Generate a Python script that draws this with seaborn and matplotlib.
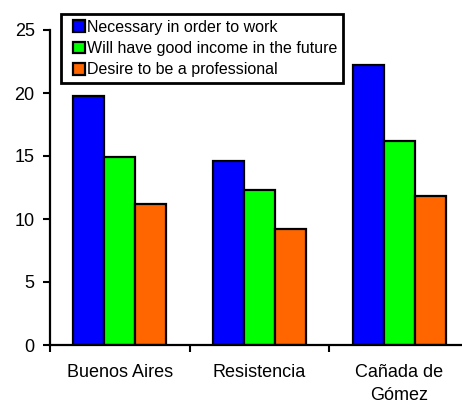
import matplotlib
matplotlib.use("Agg")
import matplotlib.pyplot as plt
import seaborn as sns
import pandas as pd
from matplotlib.container import BarContainer
from matplotlib.legend_handler import HandlerPatch, update_from_first_child
from matplotlib.patches import Rectangle, Patch

cities = ["Buenos Aires", "Resistencia", "Cañada de\nGómez"]
series = ["Necessary in order to work", "Will have good income in the future", "Desire to be a professional"]
necessary = [19.8, 14.6, 22.2]
income = [14.9, 12.3, 16.2]
professional = [11.2, 9.2, 11.8]
yticks = [0, 5, 10, 15, 20, 25]
colors = ["#0000FF", "#00FF00", "#FF6600"]

rows = []
for s, vals in zip(series, [necessary, income, professional]):
    for c, v in zip(cities, vals):
        rows.append({"city": c, "series": s, "value": v})
df = pd.DataFrame(rows)

sns.set_style("white")
plt.rcParams['font.family'] = ['Liberation Sans', 'DejaVu Sans']
plt.rcParams['text.color'] = 'black'
plt.rcParams['xtick.color'] = 'black'
plt.rcParams['ytick.color'] = 'black'
plt.rcParams['xtick.labelcolor'] = 'black'
plt.rcParams['ytick.labelcolor'] = 'black'

fig = plt.figure(figsize=(4.62, 4.0), dpi=100)
ax = fig.add_axes([50/462, 55/400, 419/462, 315/400])
sns.barplot(data=df, x="city", y="value", hue="series", order=cities,
            hue_order=series, palette=colors, width=0.667, saturation=1,
            edgecolor="black", linewidth=1.6, ax=ax, legend=True)

ax.set_xlim(-0.5, 2.5)
ax.set_ylim(0, 25)
ax.set_yticks(yticks)
ax.set_yticklabels([str(t) for t in yticks], fontsize=13)
ax.set_xticks([-0.5, 0.5, 1.5, 2.5])
ax.set_xticklabels([])
ax.set_xticks([0, 1, 2], minor=True)
ax.set_xticklabels(cities, minor=True, fontsize=13)
for lab in ax.get_xticklabels(minor=True):
    lab.set_linespacing(1.45)
ax.tick_params(axis='x', which='major', length=5, width=1.5, direction='out', color='black', bottom=True)
ax.tick_params(axis='x', which='minor', length=0, pad=14)
ax.tick_params(axis='y', length=5, width=1.5, direction='out', color='black', left=True, pad=6)
ax.set_xlabel("")
ax.set_ylabel("")
for sp in ["top", "right"]:
    ax.spines[sp].set_visible(False)
for sp in ["left", "bottom"]:
    ax.spines[sp].set_color("black")
    ax.spines[sp].set_linewidth(1.6)


def square_right(legend, orig_handle, xdescent, ydescent, width, height, fontsize):
    side = 0.72 * fontsize
    return Rectangle((width - side - xdescent, (height - side) / 2 - ydescent), side, side)


handles, labels = ax.get_legend_handles_labels()
handles = [Patch(facecolor=c, edgecolor="black", linewidth=1.6) for c in colors]
leg = ax.legend(handles, series, loc="upper left", bbox_to_anchor=(61/462, 1 - 14/400),
                bbox_transform=fig.transFigure, fontsize=11.5, frameon=True,
                fancybox=False, edgecolor="black", framealpha=1,
                handlelength=1.15, handleheight=0.72, handletextpad=0.15,
                labelspacing=0.4, borderpad=0.35, borderaxespad=0,
                handler_map={Patch: HandlerPatch(patch_func=square_right)})
leg.get_frame().set_linewidth(2)

fig.savefig("out.png", dpi=100)
